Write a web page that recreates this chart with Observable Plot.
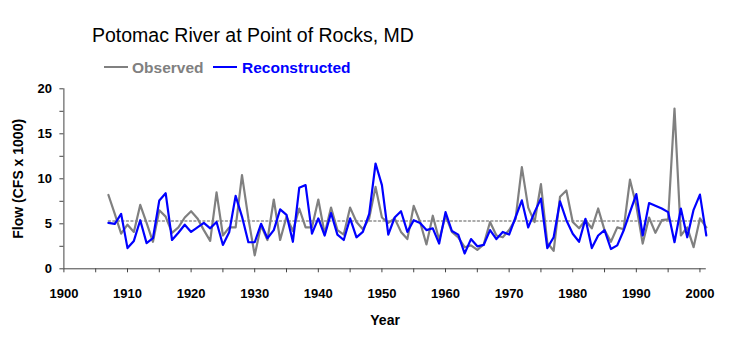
<!DOCTYPE html>
<html>
<head>
<meta charset="utf-8">
<script src="https://cdn.jsdelivr.net/npm/d3@7"></script>
<script src="https://cdn.jsdelivr.net/npm/@observablehq/plot@0.6"></script>
<style>
  body { margin: 0; background: #fff; }
  #wrap { position: relative; width: 733px; height: 339px; font-family: "Liberation Sans", Arial, sans-serif; }
  #head { position: relative; width: 733px; height: 78px; }
  .title { position: absolute; left: 92px; top: 25.5px; font-size: 19.5px; line-height: 1; color: #000; white-space: nowrap; }
  .lg { position: absolute; top: 59.5px; font-size: 15.5px; font-weight: bold; line-height: 1; white-space: nowrap; }
  .sw { position: absolute; top: 65.5px; height: 2px; width: 24px; }
  svg { display: block; }
</style>
</head>
<body>
<div id="wrap">
  <div id="head">
    <div class="title">Potomac River at Point of Rocks, MD</div>
    <div class="sw" style="left:104px;background:#808080"></div>
    <div class="lg" style="left:132px;color:#808080">Observed</div>
    <div class="sw" style="left:213px;background:#0000ff"></div>
    <div class="lg" style="left:242px;color:#0000ff">Reconstructed</div>
  </div>
  <div id="chart"></div>
</div>
<script>
const years = d3.range(1907, 2002);
const observed = [
  8.2, 6.1, 3.9, 4.9, 4.1, 7.1, 5.1, 3.0, 6.5, 5.8,
  4.0, 4.6, 5.7, 6.4, 5.6, 4.3, 3.1, 8.5, 3.7, 4.6,
  4.6, 10.4, 5.6, 1.5, 4.8, 3.2, 7.7, 3.2, 5.8, 4.2,
  6.7, 4.6, 4.6, 7.7, 3.9, 6.8, 4.3, 3.8, 6.8, 5.2,
  4.4, 5.6, 9.1, 5.7, 5.1, 5.6, 4.1, 3.3, 7.0, 5.2,
  2.7, 5.9, 3.2, 5.9, 4.1, 3.5, 2.4, 2.6, 2.1, 2.7,
  5.2, 3.7, 3.5, 4.3, 5.5, 11.3, 6.8, 5.2, 9.4, 2.9,
  2.0, 8.0, 8.7, 5.2, 4.5, 5.4, 4.5, 6.7, 4.3, 3.0,
  4.6, 4.4, 9.9, 7.0, 2.8, 5.7, 4.0, 5.4, 5.5, 17.8,
  3.7, 4.6, 2.4, 5.6, 4.6
];
const reconstructed = [
  5.1, 5.0, 6.1, 2.3, 3.1, 5.4, 2.85, 3.4, 7.6, 8.4,
  3.2, 4.0, 4.9, 4.1, 4.6, 5.1, 4.5, 5.2, 2.65, 4.1,
  8.1, 5.8, 2.95, 2.95, 5.0, 3.4, 4.3, 6.6, 6.0, 3.0,
  9.0, 9.3, 3.9, 5.6, 3.7, 6.2, 3.8, 3.2, 5.6, 3.5,
  4.1, 6.1, 11.7, 9.3, 3.8, 5.7, 6.4, 4.1, 5.4, 5.1,
  4.3, 4.5, 2.8, 6.3, 4.2, 3.8, 1.7, 3.3, 2.5, 2.65,
  4.3, 3.3, 4.1, 3.8, 5.7, 7.6, 4.6, 6.3, 7.8, 2.3,
  3.5, 7.5, 5.4, 3.9, 3.0, 5.55, 2.3, 3.7, 4.3, 2.2,
  2.6, 4.25, 6.3, 8.3, 3.7, 7.3, 7.0, 6.7, 6.3, 2.95,
  6.7, 3.5, 6.55, 8.25, 3.7
];
const meanFlow = 5.3;
const xTicks = d3.range(1900, 2001, 5);
const yTicks = d3.range(0, 20.01, 2.5);

const obsData = years.map((y, i) => ({year: y, flow: observed[i]}));
const recData = years.map((y, i) => ({year: y, flow: reconstructed[i]}));
const meanData = [{year: years[0], flow: meanFlow}, {year: years[years.length - 1], flow: meanFlow}];

const chart = Plot.plot({
  width: 733,
  height: 261,
  marginLeft: 63.4,
  marginRight: 27.2,
  marginTop: 10.3,
  marginBottom: 70.7,
  style: {fontFamily: "'Liberation Sans', Arial, sans-serif", fontSize: "13px", fontWeight: "bold", color: "#000", background: "#fff", overflow: "visible"},
  x: {domain: [1900, 2001]},
  y: {domain: [0, 20]},
  marks: [
    Plot.axisX({ticks: xTicks, tickSize: 4, tickPadding: 16, tickFormat: d => d % 10 === 0 ? String(d) : "", label: null, stroke: "#444"}),
    Plot.axisY({ticks: yTicks, tickSize: 4, tickPadding: 8, tickFormat: d => d % 5 === 0 ? String(d) : "", label: null, stroke: "#444"}),
    Plot.ruleX([1900], {stroke: "#444", strokeWidth: 1}),
    Plot.ruleY([0], {stroke: "#444", strokeWidth: 1}),
    Plot.line(meanData, {x: "year", y: "flow", stroke: "#909090", strokeWidth: 1.5, strokeDasharray: "2,2.5"}),
    Plot.line(obsData, {x: "year", y: "flow", stroke: "#808080", strokeWidth: 2.2}),
    Plot.line(recData, {x: "year", y: "flow", stroke: "#0000ff", strokeWidth: 2.2}),
    Plot.text(["Year"], {frameAnchor: "bottom", lineAnchor: "middle", dy: 52, fontSize: 14, fontWeight: "bold"}),
    Plot.text(["Flow (CFS x 1000)"], {frameAnchor: "left", textAnchor: "middle", lineAnchor: "middle", rotate: -90, dx: -45, fontSize: 14, fontWeight: "bold"})
  ]
});
document.getElementById("chart").appendChild(chart);
</script>
</body>
</html>
